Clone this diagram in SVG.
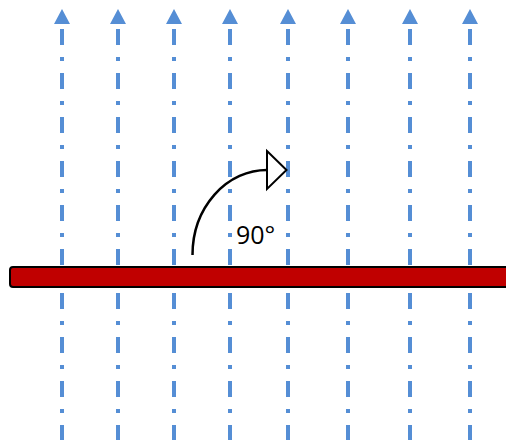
<svg xmlns="http://www.w3.org/2000/svg" width="506" height="440" viewBox="0 0 506 440">
<style>
.ray{stroke:#558ED5;stroke-width:4;stroke-dasharray:16 12 4 12;fill:none;marker-start:url(#up)}
.lbl{font-family:"Open Sans","DejaVu Sans",sans-serif;font-size:25px;fill:#000}
</style>
<defs>
<marker id="up" markerUnits="userSpaceOnUse" markerWidth="22" markerHeight="18" viewBox="0 -9 22 18" refX="0" refY="0" orient="auto-start-reverse">
<path d="M5,-8 L20,0 L5,8 Z" fill="#558ED5"/>
</marker>
</defs>
<rect width="506" height="440" fill="#fff"/>
<g id="connectors">
<line class="ray" x1="62" y1="29" x2="62" y2="440"/>
<line class="ray" x1="118" y1="29" x2="118" y2="440"/>
<line class="ray" x1="174" y1="29" x2="174" y2="440"/>
<line class="ray" x1="230" y1="29" x2="230" y2="440"/>
<line class="ray" x1="288" y1="29" x2="288" y2="440"/>
<line class="ray" x1="348" y1="29" x2="348" y2="440"/>
<line class="ray" x1="410" y1="29" x2="410" y2="440"/>
<line class="ray" x1="470" y1="29" x2="470" y2="440"/>
</g>
<g id="bar">
<rect x="10" y="267" width="506" height="20" rx="3" fill="#C00000" stroke="#000" stroke-width="2"/>
</g>
<g id="rotation">
<path d="M192.5,255 A74.5,85 0 0 1 267,170" fill="none" stroke="#000" stroke-width="2.5"/>
<path d="M267,151 L286.5,170 L267,189 Z" fill="#fff" stroke="#000" stroke-width="2"/>
</g>
<g id="label">
<text class="lbl" x="236" y="244">90°</text>
</g>
</svg>
